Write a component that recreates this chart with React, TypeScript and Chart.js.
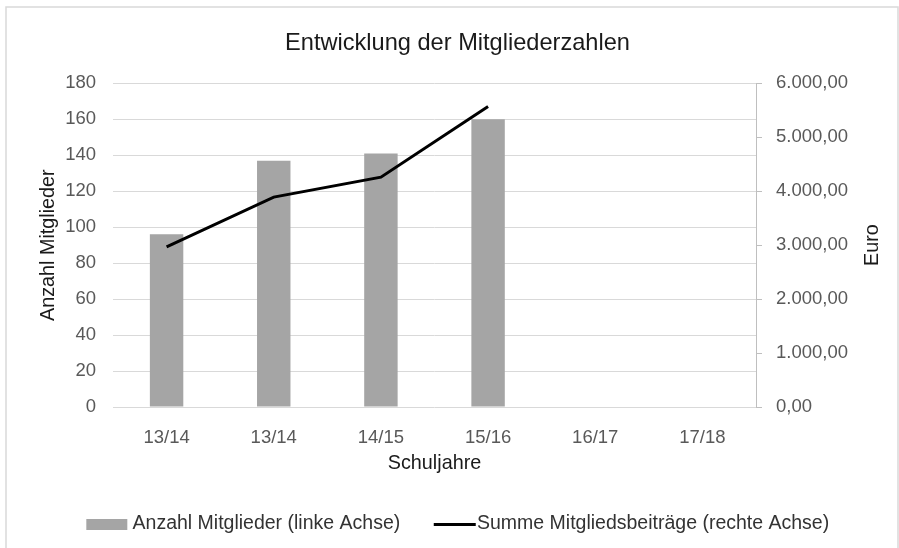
import React, { useEffect, useRef } from 'react';
import { Chart, registerables } from 'chart.js';

Chart.register(...registerables);

const categories = ['13/14', '13/14', '14/15', '15/16', '16/17', '17/18'];
const members: (number | null)[] = [96, 137, 141, 160, null, null];
const fees: (number | null)[] = [2970, 3890, 4260, 5570, null, null];
const leftMax = 180;
const leftStep = 20;
const rightMax = 6000;
const rightStep = 1000;

const chartTitle = 'Entwicklung der Mitgliederzahlen';
const xTitle = 'Schuljahre';
const yLeftTitle = 'Anzahl Mitglieder';
const yRightTitle = 'Euro';
const barLabel = 'Anzahl Mitglieder (linke Achse)';
const lineLabel = 'Summe Mitgliedsbeiträge (rechte Achse)';

const FONT = "'Liberation Sans', Arial, sans-serif";

function formatEuro(v: number): string {
  const neg = v < 0;
  const parts = Math.abs(v).toFixed(2).split('.');
  const intPart = parts[0].replace(/\B(?=(\d{3})+(?!\d))/g, '.');
  return (neg ? '-' : '') + intPart + ',' + parts[1];
}

function makeImg(w: number, h: number, color: string, x: number, rw: number): HTMLCanvasElement {
  const c = document.createElement('canvas');
  c.width = w;
  c.height = h;
  const ctx = c.getContext('2d')!;
  ctx.fillStyle = color;
  ctx.fillRect(x, 0, rw, h);
  return c;
}

export default function App() {
  const ref = useRef<HTMLCanvasElement | null>(null);

  useEffect(() => {
    if (!ref.current) return;
    const rectImg = makeImg(48, 11, '#a5a5a5', 6, 41);
    const lineImg = makeImg(56, 3, '#000000', 13, 42);

    const framePlugin = {
      id: 'frame',
      beforeDraw(chart: any) {
        const ctx = chart.ctx;
        ctx.save();
        ctx.strokeStyle = '#d9d9d9';
        ctx.lineWidth = 1.5;
        ctx.strokeRect(6, 7, 892, 560);
        ctx.restore();
      },
      afterDraw(chart: any) {
        const ctx = chart.ctx;
        const a = chart.chartArea;
        ctx.save();
        ctx.font = `19.8px ${FONT}`;
        ctx.fillStyle = '#1a1a1a';
        ctx.textAlign = 'center';
        ctx.textBaseline = 'middle';
        ctx.translate(872.5, (a.top + a.bottom) / 2);
        ctx.rotate(-Math.PI / 2);
        ctx.fillText(yRightTitle, 0, 0);
        ctx.restore();
      },
    };

    const chart = new Chart(ref.current, {
      type: 'bar',
      data: {
        labels: categories,
        datasets: [
          {
            type: 'bar',
            label: barLabel,
            data: members,
            backgroundColor: '#a5a5a5',
            borderWidth: 0,
            yAxisID: 'y',
            order: 1,
            categoryPercentage: 1,
            barPercentage: 0.312,
          } as any,
          {
            type: 'line',
            label: lineLabel,
            data: fees,
            borderColor: '#000000',
            backgroundColor: '#000000',
            borderWidth: 3,
            pointRadius: 0,
            tension: 0,
            yAxisID: 'y1',
            order: 0,
          } as any,
        ],
      },
      options: {
        responsive: false,
        animation: false,
        devicePixelRatio: 1,
        layout: { padding: { top: 0, left: 16, right: 0, bottom: 4.25 } },
        plugins: {
          tooltip: { enabled: false },
          title: {
            display: true,
            text: chartTitle,
            color: '#1a1a1a',
            font: { family: FONT, size: 23.6, weight: 'normal' },
            padding: { top: 29.3, bottom: 25.7 },
          },
          legend: {
            display: true,
            position: 'bottom',
            labels: {
              usePointStyle: true,
              pointStyleWidth: 37,
              padding: 30,
              color: '#333333',
              font: { family: FONT, size: 19.5 },
              generateLabels: (ch: any) => {
                const base = (Chart.defaults.plugins.legend.labels as any).generateLabels(ch);
                return base
                  .sort((p: any, q: any) => p.datasetIndex - q.datasetIndex)
                  .map((it: any) => ({
                    ...it,
                    pointStyle: it.datasetIndex === 0 ? rectImg : lineImg,
                    lineWidth: 0,
                  }));
              },
            },
          },
        },
        scales: {
          x: {
            type: 'category',
            offset: true,
            grid: { display: false, drawTicks: false },
            border: { display: false },
            ticks: {
              color: '#595959',
              font: { family: FONT, size: 18.5 },
              padding: 20,
              maxRotation: 0,
              autoSkip: false,
            },
            title: {
              display: true,
              text: xTitle,
              color: '#1a1a1a',
              font: { family: FONT, size: 19.8 },
              padding: { top: 0, bottom: 8.4 },
            },
            afterFit: (s: any) => {
              s.height = 77.25;
            },
          },
          y: {
            type: 'linear',
            position: 'left',
            min: 0,
            max: leftMax,
            grid: { color: '#d9d9d9', lineWidth: 1, drawTicks: false },
            border: { display: false },
            ticks: {
              stepSize: leftStep,
              color: '#595959',
              font: { family: FONT, size: 18.5 },
              padding: 17,
            },
            title: {
              display: true,
              text: yLeftTitle,
              color: '#1a1a1a',
              font: { family: FONT, size: 19.8 },
              padding: { top: 21, bottom: 0 },
            },
            afterFit: (s: any) => {
              s.width = 97;
            },
          },
          y1: {
            type: 'linear',
            position: 'right',
            min: 0,
            max: rightMax,
            grid: {
              drawOnChartArea: false,
              drawTicks: true,
              tickLength: 6,
              color: '#bfbfbf',
            },
            border: { display: true, color: '#bfbfbf', width: 1 },
            ticks: {
              stepSize: rightStep,
              color: '#595959',
              font: { family: FONT, size: 18.5 },
              padding: 14,
              callback: (v: any) => formatEuro(Number(v)),
            },
            title: { display: false },
            afterFit: (s: any) => {
              s.width = 143;
            },
          },
        },
      } as any,
      plugins: [framePlugin],
    });
    return () => chart.destroy();
  }, []);

  return (
    <div style={{ position: 'absolute', left: 0, top: 0, width: 899, height: 548, background: '#ffffff' }}>
      <canvas ref={ref} width={899} height={548} style={{ display: 'block' }} />
    </div>
  );
}
